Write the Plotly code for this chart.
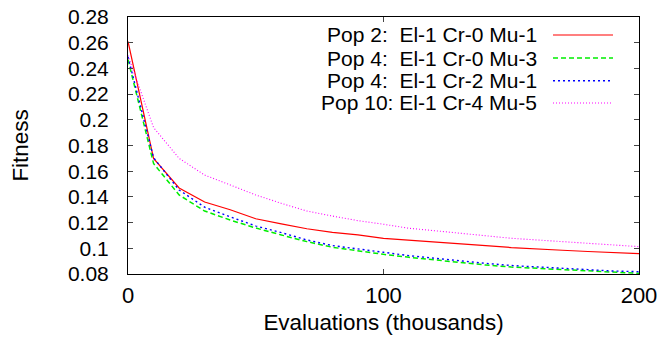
import plotly.graph_objects as go

evals = [0, 10, 20, 30, 40, 50, 60, 70, 80, 90, 100, 110, 120, 130, 140, 150, 160, 170, 180, 190, 200]

pop2_el1_cr0_mu1 = [0.261, 0.170, 0.147, 0.136, 0.130, 0.123, 0.119, 0.1152, 0.1124, 0.1104, 0.1078,
                    0.1065, 0.1052, 0.1036, 0.1021, 0.1006, 0.0993, 0.0985, 0.0975, 0.0966, 0.0958]
pop4_el1_cr0_mu3 = [0.247, 0.166, 0.1415, 0.129, 0.122, 0.1158, 0.1104, 0.1052, 0.1008, 0.098, 0.0953,
                    0.093, 0.0909, 0.0891, 0.087, 0.0854, 0.0844, 0.0831, 0.0821, 0.0813, 0.0805]
pop4_el1_cr2_mu1 = [0.249, 0.1705, 0.1454, 0.132, 0.1245, 0.1174, 0.1122, 0.1065, 0.1021, 0.0993, 0.0969,
                    0.0943, 0.0922, 0.0904, 0.0883, 0.0866, 0.0857, 0.0844, 0.0834, 0.0823, 0.0818]
pop10_el1_cr4_mu5 = [0.250, 0.194, 0.170, 0.157, 0.1493, 0.1415, 0.135, 0.129, 0.1251, 0.1215, 0.1187,
                     0.1156, 0.1137, 0.1117, 0.1098, 0.1078, 0.1065, 0.1052, 0.1039, 0.1026, 0.1013]

series_names = ["Pop 2:  El-1 Cr-0 Mu-1", "Pop 4:  El-1 Cr-0 Mu-3",
                "Pop 4:  El-1 Cr-2 Mu-1", "Pop 10: El-1 Cr-4 Mu-5"]
series_values = [pop2_el1_cr0_mu1, pop4_el1_cr0_mu3, pop4_el1_cr2_mu1, pop10_el1_cr4_mu5]
colors = ["#ff0000", "#00ee00", "#0000ff", "#ff00ff"]
dashes = ["solid", "5px,3px", "2px,3px", "1px,2px"]
widths = [1.2, 1.5, 1.4, 1.1]

# page body has an 8px margin; figure sized to fit the 665x343 window
OFF = 8
W, H = 665 - OFF, 343 - 2 * OFF
PX0, PX1, PY0, PY1 = 128, 639, 17, 274   # plot area in window pixels
ML, MR, MT, MB = PX0 - OFF, W - (PX1 - OFF), PY0 - OFF, H - (PY1 - OFF)
PW, PH = PX1 - PX0, PY1 - PY0
FONT = "Liberation Sans, Arial, Helvetica, sans-serif"
FS = 21

fig = go.Figure()
for name, vals, c, d, w in zip(series_names, series_values, colors, dashes, widths):
    fig.add_trace(go.Scatter(x=evals, y=vals, mode="lines", name=name,
                             line=dict(color=c, dash=d, width=w), showlegend=False))

# gnuplot-style key: right-aligned labels with line samples to the right
text_right_px = 538
samp_x0_px, samp_x1_px = 553, 613
row_y_px = [35, 58, 80.7, 103]
for name, c, d, w, ypx in zip(series_names, colors, dashes, widths, row_y_px):
    yp = 1 - (ypx - PY0) / PH
    fig.add_annotation(xref="paper", yref="paper", x=(text_right_px - PX0) / PW, y=yp,
                       text=name.replace("  ", "&nbsp; "), showarrow=False,
                       xanchor="right", yanchor="middle", borderpad=0,
                       font=dict(family=FONT, size=21, color="black"))
    fig.add_shape(type="line", xref="paper", yref="paper",
                  x0=(samp_x0_px - PX0) / PW, x1=(samp_x1_px - PX0) / PW, y0=yp, y1=yp,
                  line=dict(color=c, dash=d, width=w))

fig.update_layout(
    width=W, height=H,
    margin=dict(l=ML, r=MR, t=MT, b=MB, autoexpand=False),
    paper_bgcolor="white", plot_bgcolor="white",
    font=dict(family=FONT, size=FS, color="black"),
)
fig.update_xaxes(range=[0, 200], tickvals=[0, 100, 200], ticks="inside", ticklen=5,
                 showline=True, linecolor="black", linewidth=1, mirror="ticks",
                 showgrid=False, zeroline=False, ticklabelstandoff=2,
                 tickfont=dict(size=22),
                 ticklabeloverflow="allow", automargin=False,
                 title=dict(text="Evaluations (thousands)", standoff=19,
                            font=dict(family=FONT, size=22.4, color="black")))
fig.update_yaxes(range=[0.08, 0.28], dtick=0.02, tick0=0.08, ticks="inside", ticklen=5,
                 showline=True, linecolor="black", linewidth=1, mirror="ticks",
                 showgrid=False, zeroline=False, ticklabelstandoff=14,
                 tickfont=dict(size=21),
                 ticklabeloverflow="allow", automargin=False,
                 title=dict(text="Fitness", standoff=34,
                            font=dict(family=FONT, size=22.4, color="black")))

fig.write_html("out.html")
